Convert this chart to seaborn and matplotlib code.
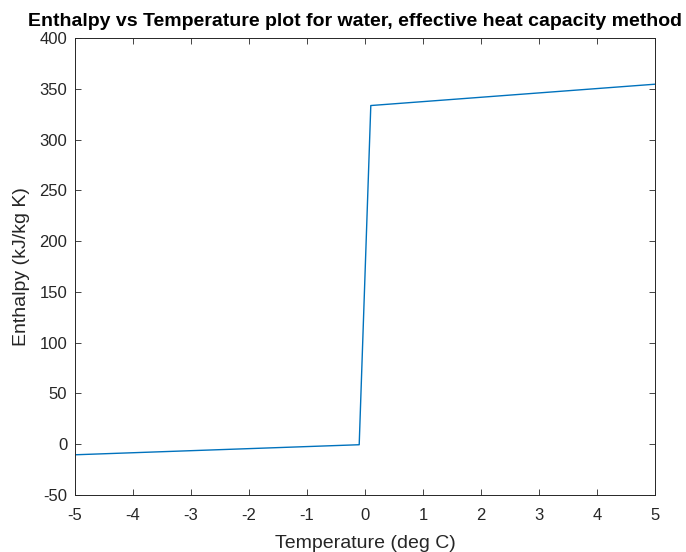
import matplotlib
matplotlib.use("Agg")
import matplotlib.pyplot as plt
import seaborn as sns
import pandas as pd

temperature = [-5.0, -0.1, 0.1, 5.0]
enthalpy = [-10.4, -0.5, 333.5, 354.5]

x_ticks = [-5, -4, -3, -2, -1, 0, 1, 2, 3, 4, 5]
y_ticks = [-50, 0, 50, 100, 150, 200, 250, 300, 350, 400]

sns.set_theme(style="ticks")
plt.rcParams['font.family'] = ['Liberation Sans', 'DejaVu Sans']

df = pd.DataFrame({"T": temperature, "H": enthalpy})

fig = plt.figure(figsize=(6.86, 5.52), dpi=100)
ax = fig.add_axes([75/686, 1-495/552, 580/686, 457/552])
sns.lineplot(data=df, x="T", y="H", ax=ax, color="#0072BD", linewidth=1.0, sort=False)

ax.set_xlim(-5, 5)
ax.set_ylim(-50, 400)
ax.set_xticks(x_ticks)
ax.set_yticks(y_ticks)
ax.set_xticklabels([str(v) for v in x_ticks])
ax.set_yticklabels([str(v) for v in y_ticks])
ax.tick_params(direction="in", length=4, width=0.6, colors="#262626", labelsize=12,
               top=True, right=True)
ax.tick_params(axis="x", pad=9)
ax.tick_params(axis="y", pad=5.5)
for s in ax.spines.values():
    s.set_visible(True)
    s.set_color("#262626")
    s.set_linewidth(0.7)
ax.set_xlabel("Temperature (deg C)", fontsize=14, color="#262626", labelpad=9)
ax.set_ylabel("Enthalpy (kJ/kg K)", fontsize=14, color="#262626", labelpad=7)
ax.set_title("Enthalpy vs Temperature plot for water, effective heat capacity method",
             fontsize=14, fontweight="bold", color="black", pad=9, x=0.4836)

fig.savefig("out.png", dpi=100)
